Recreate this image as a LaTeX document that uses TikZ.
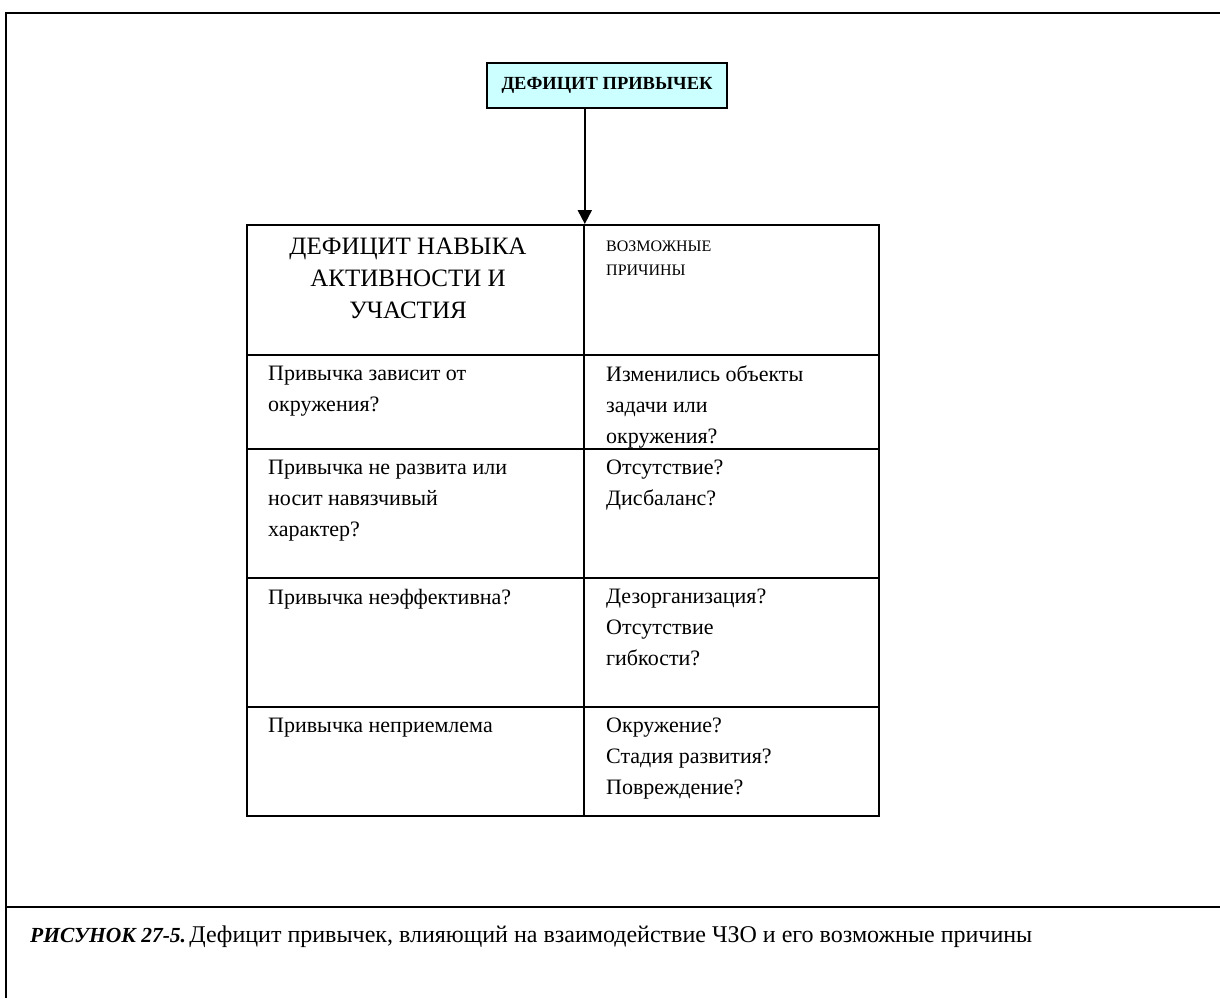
\documentclass[tikz,border=0pt]{standalone}
\usepackage{fontspec}
\setmainfont{Liberation Serif}
\usetikzlibrary{arrows.meta}
\newcommand{\fsz}[2]{\fontsize{#1}{#2}\selectfont}
\begin{document}
\begin{tikzpicture}[x=1pt,y=-1pt,
  frame/.style={line width=2pt,black},
  cell/.style={draw=black,line width=1.8pt,minimum width=#1,inner sep=0pt,anchor=north west},
  celltext/.style={anchor=north west,inner sep=0pt,align=left,font=\fsz{22}{31}},
  arr/.style={line width=2pt,-{Triangle[width=14pt,length=14pt]}}]
\useasboundingbox (0,0) rectangle (1220,998);
% outer frame
\draw[frame] (1220,13) -- (6,13) -- (6,998);
\draw[frame] (6,907) -- (1220,907);
% top box
\node[draw=black,line width=1.8pt,fill={rgb,255:red,204;green,255;blue,255},minimum width=240pt,minimum height=45pt,inner sep=0pt,font=\bfseries\fsz{18.5}{22}] (top) at (607,85.5) {ДЕФИЦИТ ПРИВЫЧЕК};
% table cells
\node[cell=337pt,minimum height=130pt] (h1) at (246,224) {};
\node[cell=295pt,minimum height=130pt] (h2) at (583,224) {};
\node[cell=337pt,minimum height=94pt] (a1) at (246,354) {};
\node[cell=295pt,minimum height=94pt] (a2) at (583,354) {};
\node[cell=337pt,minimum height=129pt] (b1) at (246,448) {};
\node[cell=295pt,minimum height=129pt] (b2) at (583,448) {};
\node[cell=337pt,minimum height=129pt] (c1) at (246,577) {};
\node[cell=295pt,minimum height=129pt] (c2) at (583,577) {};
\node[cell=337pt,minimum height=109pt] (d1) at (246,706) {};
\node[cell=295pt,minimum height=109pt] (d2) at (583,706) {};
% arrow
\draw[arr] (top.south -| h1.north east) -- (h1.north east);
% header texts
\node[anchor=north,inner sep=0pt,align=center,font=\fsz{25}{32}] (th1) at (408,238) {ДЕФИЦИТ НАВЫКА\\АКТИВНОСТИ И\\УЧАСТИЯ};
\node[anchor=north west,inner sep=0pt,align=left,font=\fsz{16}{24}] (th2) at (606,241) {ВОЗМОЖНЫЕ\\ПРИЧИНЫ};
% row texts
\node[celltext] (ta1) at (268,366) {Привычка зависит от\\окружения?};
\node[celltext] (ta2) at (606,366) {Изменились объекты\\задачи или\\окружения?};
\node[celltext] (tb1) at (268,460) {Привычка не развита или\\носит навязчивый\\характер?};
\node[celltext] (tb2) at (606,460) {Отсутствие?\\Дисбаланс?};
\node[celltext] (tc1) at (268,589) {Привычка неэффективна?};
\node[celltext] (tc2) at (606,589) {Дезорганизация?\\Отсутствие\\гибкости?};
\node[celltext] (td1) at (268,718) {Привычка неприемлема};
\node[celltext] (td2) at (606,718) {Окружение?\\Стадия развития?\\Повреждение?};
% caption
\node[anchor=base west,inner sep=0pt] (cap) at (30,942) {{\fsz{21.5}{26}\textbf{\textit{РИСУНОК 27-5.}}} {\fsz{24}{28}Дефицит привычек, влияющий на взаимодействие ЧЗО и его возможные причины}};
\end{tikzpicture}
\end{document}
